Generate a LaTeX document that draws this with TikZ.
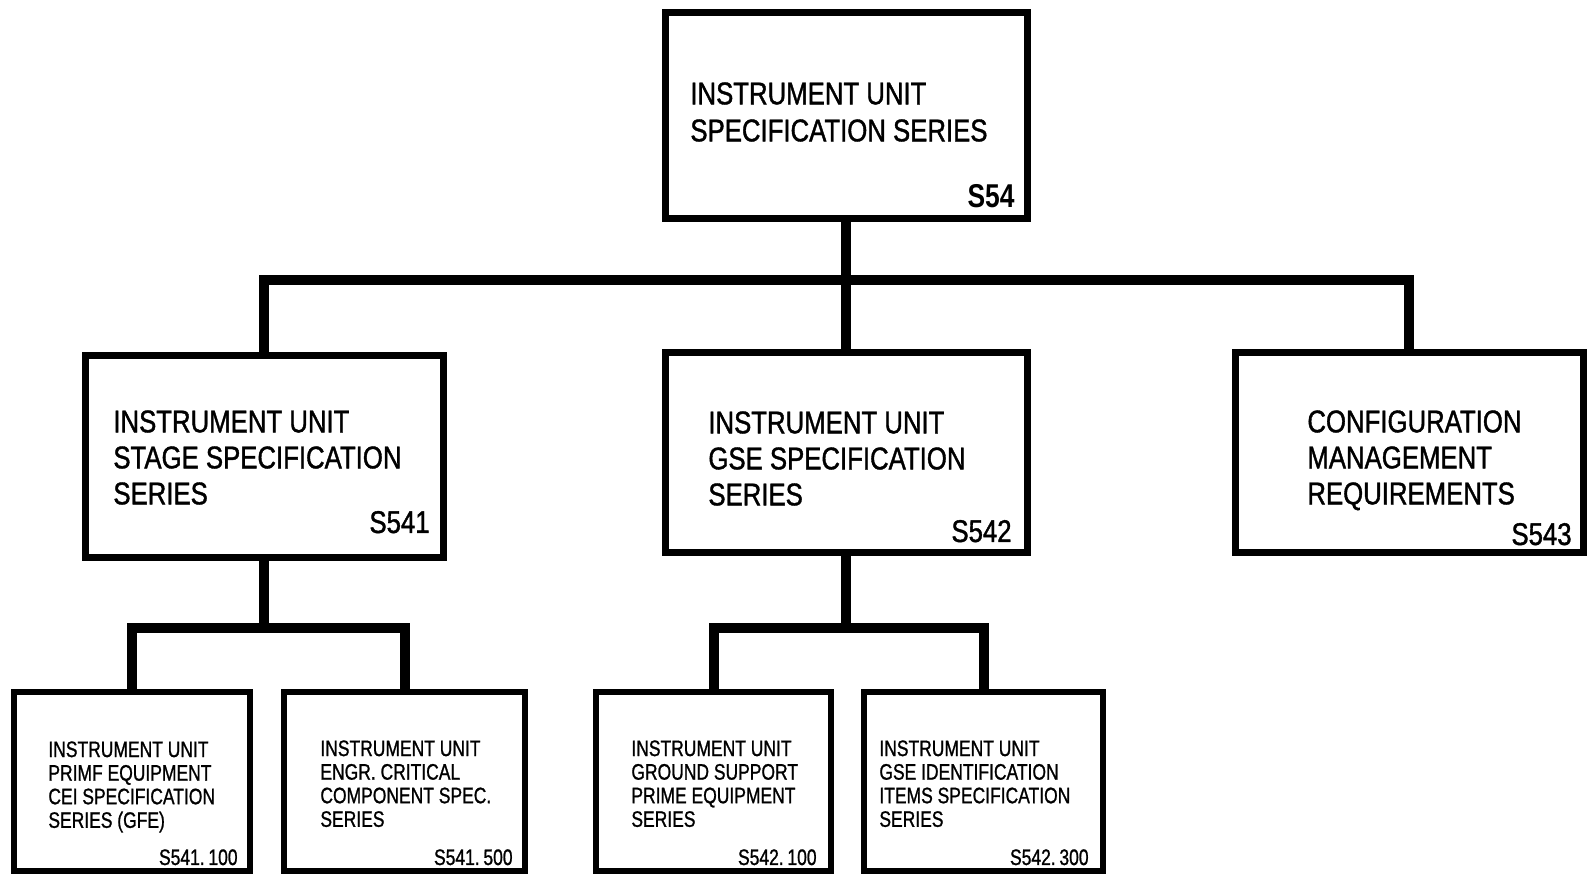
\documentclass[tikz,border=0pt]{standalone}
\usepackage{fontspec}
\setmainfont{Liberation Sans}[FakeStretch=0.82,FakeBold=1.2]
\newfontfamily\smallfont{Liberation Sans}[FakeStretch=0.78,FakeBold=1.0]
\newfontfamily\boldlab{Liberation Sans Bold}[FakeStretch=0.80]
\begin{document}
\begin{tikzpicture}[x=0.5pt,y=-0.5pt,
  box/.style={draw, line width=3.5pt, rectangle, inner sep=0pt},
  sbox/.style={draw, line width=3pt, rectangle, inner sep=0pt},
  conn/.style={line width=5pt},
  txt/.style={anchor=north west, inner sep=0pt, align=left, font=\fontsize{15.7}{18}\selectfont},
  stxt/.style={anchor=north west, inner sep=0pt, align=left, font=\smallfont\fontsize{11.2}{11.8}\selectfont},
  lab/.style={anchor=base east, inner sep=0pt, font=\fontsize{15.7}{18}\selectfont},
  slab/.style={anchor=base east, inner sep=0pt, font=\smallfont\fontsize{11.2}{12}\selectfont}]
\useasboundingbox (0,0) rectangle (1587,876);
% boxes
\node[box, minimum width=181pt, minimum height=103pt] (T) at (846,116) {};
\node[box, minimum width=179pt, minimum height=101pt] (L) at (264,457) {};
\node[box, minimum width=181pt, minimum height=100pt] (M) at (846,453) {};
\node[box, minimum width=174pt, minimum height=100pt] (R) at (1409,453) {};
\node[sbox, minimum width=118pt, minimum height=89.5pt] (B1) at (132,781.5) {};
\node[sbox, minimum width=120.5pt, minimum height=89.5pt] (B2) at (404.5,781.5) {};
\node[sbox, minimum width=117.5pt, minimum height=89.5pt] (B3) at (713.5,781.5) {};
\node[sbox, minimum width=119.5pt, minimum height=89.5pt] (B4) at (983.5,781.5) {};
% junctions
\coordinate (j1) at (846,280);
\coordinate (j2) at (264,628);
\coordinate (j3) at (846,628);
% connectors
\draw[conn] (T.south) -- (M.north);
\draw[conn] (L.north) |- (j1) -| (R.north);
\draw[conn] (L.south) -- (j2);
\draw[conn] (B1.north) |- (j2) -| (B2.north);
\draw[conn] (M.south) -- (j3);
\draw[conn] (B3.north) |- (j3) -| (B4.north);
% texts
\node[txt, font=\fontsize{15.7}{18.5}\selectfont] (tT) at (690,82) {INSTRUMENT UNIT\\SPECIFICATION SERIES};
\node[lab, font=\boldlab\fontsize{16.5}{18}\selectfont] (lT) at (1015,208) {S54};
\node[txt] (tL) at (113,410) {INSTRUMENT UNIT\\STAGE SPECIFICATION\\SERIES};
\node[lab] (lL) at (430,533) {S541};
\node[txt] (tM) at (708,411) {INSTRUMENT UNIT\\GSE SPECIFICATION\\SERIES};
\node[lab] (lM) at (1012,542) {S542};
\node[txt] (tR) at (1307,410) {CONFIGURATION\\MANAGEMENT\\REQUIREMENTS};
\node[lab] (lR) at (1572,545) {S543};
\node[stxt] (t1) at (48,741) {INSTRUMENT UNIT\\PRIMF EQUIPMENT\\CEI SPECIFICATION\\SERIES (GFE)};
\node[slab] (l1) at (238,865) {S541.\,100};
\node[stxt] (t2) at (320,740) {INSTRUMENT UNIT\\ENGR. CRITICAL\\COMPONENT SPEC.\\SERIES};
\node[slab] (l2) at (513,865) {S541.\,500};
\node[stxt] (t3) at (631,740) {INSTRUMENT UNIT\\GROUND SUPPORT\\PRIME EQUIPMENT\\SERIES};
\node[slab] (l3) at (817,865) {S542.\,100};
\node[stxt] (t4) at (879,740) {INSTRUMENT UNIT\\GSE IDENTIFICATION\\ITEMS SPECIFICATION\\SERIES};
\node[slab] (l4) at (1089,865) {S542.\,300};
\end{tikzpicture}
\end{document}
